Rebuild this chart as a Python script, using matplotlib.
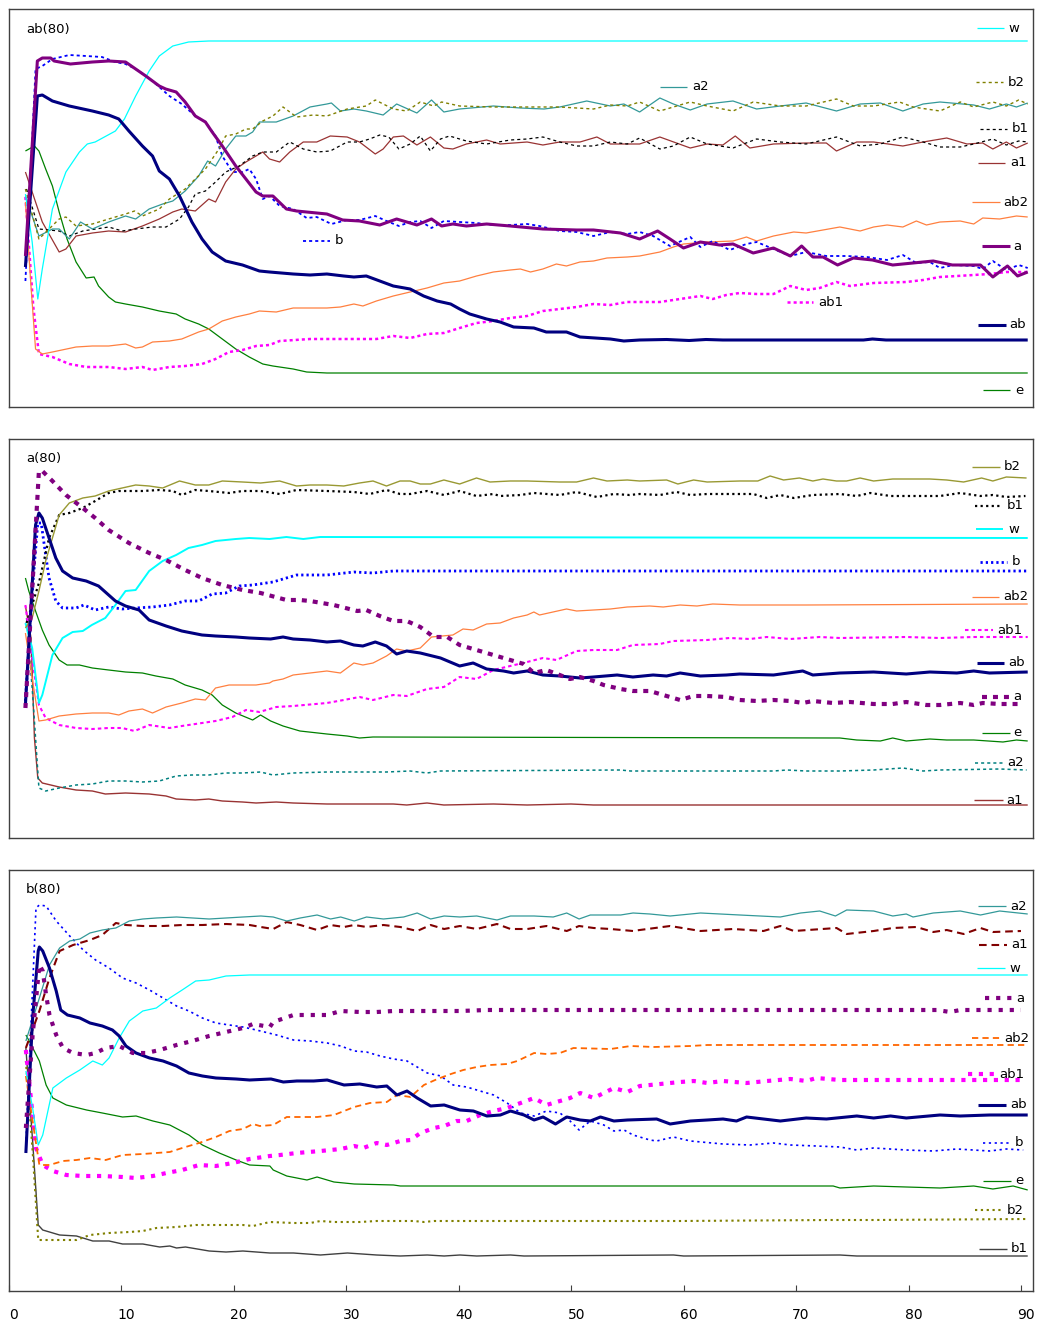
import matplotlib
matplotlib.use("Agg")
import matplotlib.pyplot as plt
from matplotlib.lines import Line2D
from matplotlib.transforms import ScaledTranslation

plt.rcParams["lines.scale_dashes"] = False
plt.rcParams["font.family"] = ["DejaVu Sans"]

W, H, DPI = 1037, 1323, 100

# ---------------- data: (time, level) ----------------
# Panel 1: ab(80)
p1_w = [(1.5,213),(2.1,165),(2.6,108),(3.0,138),(3.9,198),(5.1,235),(6.3,255),(7.0,263),(7.7,265),(9.5,276),(10.3,288),(11.3,311),(12.5,336),(13.4,351),(14.6,361),(16.0,365),(17.8,366),(90.6,366)]
p1_b2 = [(1.5,218),(2.7,168),(4.5,188),(5.1,190),(6.0,181),(7.45,183),(8.9,188),(10.4,193),(11.2,196),(11.9,191),(13.4,198),(14.3,208),(15.7,218),(16.6,228),(17.5,238),(18.7,258),(19.3,271),(20.2,273),(21.1,278),(21.7,278),(22.6,286),(23.5,291),(24.4,300),(25.6,290),(27.1,292),(28.3,291),(30.1,298),(31.8,301),(32.6,307),(34.2,298),(35.4,296),(36.6,305),(37.8,301),(38.5,305),(40.1,301),(43.1,300),(46.1,300),(49.0,300),(52.0,298),(53.5,302),(55.0,301),(56.1,305),(57.9,296),(60.6,305),(62.1,301),(64.4,296),(66.2,305),(68.6,301),(70.9,301),(73.6,308),(75.1,301),(76.9,301),(79.2,305),(80.4,300),(82.8,296),(84.6,305),(85.8,300),(87.5,305),(88.7,301),(89.8,307),(90.6,303)]
p1_a2 = [(1.5,211),(2.7,171),(3.9,178),(4.5,178),(5.4,168),(6.4,185),(7.45,178),(8.9,185),(10.4,191),(11.3,188),(12.5,198),(13.7,203),(14.6,206),(15.7,216),(16.9,231),(17.7,246),(18.4,241),(19.3,258),(20.2,271),(21.1,271),(21.7,275),(22.3,285),(23.8,285),(25.3,291),(26.8,300),(28.3,303),(28.7,304),(29.5,296),(30.7,298),(31.8,296),(33.3,292),(34.5,303),(36.3,294),(37.6,307),(38.7,295),(40.1,298),(43.1,301),(45.5,299),(47.6,298),(49.0,300),(51.4,306),(53.5,301),(54.7,303),(56.1,295),(57.9,309),(59.1,303),(60.6,297),(62.1,303),(64.4,306),(66.5,298),(68.6,301),(70.9,304),(73.6,296),(75.7,303),(77.5,304),(79.5,296),(81.3,303),(82.8,305),(85.8,302),(87.2,298),(88.7,303),(89.6,300),(90.6,304)]
p1_b1 = [(1.6,218),(2.7,178),(4.5,176),(5.4,171),(6.6,176),(8.9,180),(10.1,176),(11.3,178),(12.8,180),(14.0,180),(15.2,188),(16.0,200),(16.6,213),(17.5,216),(18.4,225),(19.3,235),(20.5,241),(21.7,251),(22.6,255),(23.8,255),(25.0,265),(26.2,258),(27.4,255),(28.6,256),(30.1,265),(31.2,265),(32.1,268),(33.0,272),(33.8,270),(34.7,258),(35.7,263),(36.6,271),(37.5,256),(38.4,268),(39.2,271),(40.7,266),(42.5,263),(44.6,267),(46.1,268),(47.5,270),(49.0,265),(50.5,261),(52.0,261),(53.5,265),(55.0,263),(56.1,269),(57.9,258),(59.1,261),(60.6,270),(62.1,263),(64.4,259),(66.5,268),(68.6,265),(70.9,263),(73.6,270),(75.7,261),(77.5,263),(79.5,270),(81.3,265),(82.8,260),(84.6,260),(85.8,263),(87.5,268),(88.7,262),(89.8,266),(90.6,265)]
p1_a1 = [(1.5,235),(3.0,185),(4.5,155),(5.1,158),(6.0,171),(7.45,174),(8.9,176),(10.4,175),(11.9,181),(13.4,188),(14.6,195),(15.4,198),(16.6,196),(17.8,208),(18.4,205),(19.3,225),(20.2,238),(21.1,245),(22.0,251),(22.6,255),(23.2,248),(24.1,245),(25.0,255),(26.2,265),(27.4,265),(28.6,271),(30.1,270),(31.2,265),(32.6,253),(33.3,258),(34.2,270),(35.1,271),(36.3,262),(37.5,270),(38.7,259),(39.5,258),(40.7,263),(42.5,267),(43.7,263),(46.1,265),(47.5,262),(49.0,265),(50.8,265),(52.3,270),(53.5,263),(55.0,263),(56.1,263),(57.9,270),(60.6,259),(62.1,263),(63.5,262),(64.6,271),(65.9,259),(68.0,263),(70.9,264),(72.7,264),(73.6,256),(75.4,265),(76.9,265),(79.5,261),(81.3,265),(83.4,269),(85.2,263),(86.6,264),(87.5,258),(88.7,265),(89.6,259),(90.6,264)]
p1_ab2 = [(1.5,205),(2.0,120),(2.4,58),(3.0,53),(3.9,55),(6.0,60),(7.45,61),(8.9,61),(10.4,63),(11.3,59),(11.9,60),(12.8,65),(14.3,66),(15.4,68),(16.9,75),(17.8,78),(19.0,86),(20.2,90),(21.4,93),(22.3,96),(23.8,95),(25.3,99),(28.3,99),(29.5,100),(30.7,103),(31.5,101),(32.7,106),(34.2,111),(35.7,115),(37.2,119),(38.7,124),(40.1,126),(41.6,131),(43.1,135),(44.6,137),(45.5,138),(46.4,135),(47.5,138),(48.7,143),(49.6,141),(50.8,145),(52.0,146),(53.2,149),(55.0,150),(56.1,151),(57.9,155),(59.1,160),(60.0,163),(62.1,165),(64.4,166),(65.6,170),(66.5,166),(68.0,171),(69.8,175),(70.9,174),(73.9,180),(75.7,176),(76.9,180),(78.1,182),(79.5,180),(80.7,186),(81.6,182),(82.8,185),(84.6,186),(85.8,183),(86.6,189),(88.1,188),(89.6,191),(90.6,190)]
p1_a = [(1.5,151),(2.56,346),(3.0,349),(3.75,349),(4.05,346),(5.5,343),(7.45,345),(8.9,346),(10.4,345),(11.3,338),(12.2,331),(13.4,321),(13.97,318),(14.9,315),(15.7,305),(16.6,291),(17.5,285),(18.1,275),(19.0,261),(20.2,241),(21.1,228),(22.0,215),(22.6,211),(23.5,211),(24.7,198),(25.6,196),(28.3,193),(29.7,187),(31.2,186),(33.0,182),(34.5,188),(36.3,182),(37.6,188),(38.5,181),(39.5,183),(40.7,181),(42.5,183),(44.6,181),(47.5,178),(50.5,177),(52.0,177),(54.4,174),(56.1,168),(57.7,176),(58.8,168),(60.0,159),(61.5,165),(63.2,162),(64.4,163),(66.2,154),(68.0,159),(69.5,151),(70.5,161),(71.5,150),(72.4,150),(73.7,142),(75.1,149),(76.8,147),(78.6,142),(80.4,144),(82.2,146),(83.9,142),(86.4,142),(87.5,130),(88.8,141),(89.7,131),(90.6,135)]
p1_b = [(1.5,126),(2.4,338),(3.0,341),(3.9,348),(5.4,352),(6.9,351),(8.3,350),(9.5,345),(10.4,343),(11.3,338),(12.2,331),(13.1,323),(14.3,311),(15.4,303),(16.6,291),(17.5,285),(18.4,271),(19.0,251),(19.9,235),(20.8,235),(21.4,238),(22.0,228),(22.6,208),(23.2,211),(24.1,201),(25.3,198),(26.5,189),(27.4,190),(28.7,183),(30.1,187),(31.2,187),(32.6,191),(33.6,186),(34.7,181),(35.7,185),(36.6,186),(37.6,179),(38.7,186),(40.1,185),(41.6,184),(43.1,182),(44.6,182),(46.1,183),(47.2,181),(49.0,176),(50.5,175),(52.0,171),(53.5,175),(55.0,173),(56.1,175),(57.3,171),(58.8,161),(60.6,170),(61.5,160),(62.6,166),(64.1,157),(65.6,163),(66.5,165),(68.0,158),(69.5,151),(70.9,155),(72.7,151),(74.5,151),(76.3,150),(78.1,147),(79.5,152),(80.7,144),(81.9,145),(82.8,139),(84.0,142),(85.8,141),(86.6,138),(87.5,146),(88.7,137),(89.8,142),(90.6,139)]
p1_ab1 = [(1.5,210),(2.2,100),(2.7,53),(3.9,50),(5.4,43),(6.9,40),(8.9,40),(10.4,38),(11.9,40),(12.8,37),(14.3,40),(15.7,41),(17.2,43),(18.4,48),(19.6,55),(20.8,57),(22.0,61),(23.2,62),(24.1,66),(26.8,68),(31.2,68),(32.7,68),(34.2,71),(35.7,69),(37.2,73),(38.7,74),(40.1,79),(41.6,84),(43.1,86),(44.6,89),(46.1,91),(47.5,96),(49.0,98),(50.5,100),(52.0,103),(53.5,102),(55.0,105),(57.9,105),(59.1,107),(61.5,111),(62.6,108),(63.8,112),(65.0,114),(66.5,113),(68.0,113),(69.5,121),(70.9,117),(72.1,119),(73.6,125),(74.8,121),(76.9,124),(79.8,125),(81.3,127),(82.8,130),(85.8,132),(87.2,133),(88.7,135),(90.6,135)]
p1_ab = [(1.5,140),(2.56,311),(3.0,312),(3.9,306),(5.4,301),(7.45,296),(8.9,292),(9.8,288),(10.7,276),(11.9,261),(12.8,251),(13.4,236),(14.3,228),(15.2,211),(16.3,185),(17.2,168),(18.1,155),(19.3,146),(20.8,142),(22.3,136),(23.2,135),(25.3,133),(26.8,132),(28.3,133),(29.8,131),(30.7,130),(31.8,131),(33.0,126),(34.2,121),(35.7,118),(36.9,111),(38.1,106),(39.3,103),(40.1,98),(41.0,93),(42.5,88),(43.7,85),(44.9,80),(46.7,79),(47.8,75),(49.6,75),(50.8,70),(53.5,68),(54.7,66),(56.1,67),(58.5,67.5),(60.5,66.5),(62.0,67.5),(63.5,67),(76.0,67),(76.8,68),(78.0,67),(90.6,67)]
p1_e = [(1.5,256),(2.3,261),(2.7,256),(3.3,238),(3.9,221),(4.5,195),(5.2,168),(6.0,145),(6.9,129),(7.6,130),(8.0,121),(8.9,110),(9.5,105),(10.4,103),(11.9,100),(13.4,96),(14.9,93),(15.7,88),(16.9,83),(17.8,78),(19.0,68),(20.2,58),(21.4,50),(22.6,43),(23.5,41),(25.3,38),(26.5,35),(28.3,34),(90.6,34)]

# Panel 2: a(80)
p2_b2 = [(1.5,210),(2.1,220),(2.7,247),(3.3,277),(3.9,300),(4.5,323),(5.4,335),(6.6,340),(7.7,342),(8.9,347),(10.1,350),(11.3,353),(12.5,352),(13.7,350),(15.2,357),(16.6,353),(17.8,353),(19.0,357),(20.8,356),(22.4,355),(24.1,357),(25.6,352),(26.8,353),(28.3,353),(29.8,352),(31.2,355),(32.4,357),(33.6,352),(34.8,357),(35.7,357),(36.6,354),(37.5,354),(38.7,358),(40.1,354),(41.6,360),(42.8,356),(44.6,357),(46.1,357),(49.0,356),(50.5,356),(52.0,360),(53.2,357),(55.0,358),(56.1,357),(58.5,358),(59.5,354),(60.9,358),(62.1,356),(65.0,357),(66.6,357),(67.7,362),(68.9,358),(70.3,360),(71.5,357),(72.4,359),(73.6,357),(74.5,357),(75.7,360),(76.9,357),(78.6,359),(81.9,359),(83.4,358),(84.9,356),(86.5,360),(87.5,357),(88.7,361),(90.5,360)]
p2_b1 = [(1.6,215),(2.7,255),(3.6,300),(4.5,323),(5.4,325),(6.6,330),(7.7,337),(8.9,345),(9.8,347),(11.9,347),(13.4,348),(14.6,347),(15.4,343),(16.6,348),(17.8,347),(19.6,345),(20.8,347),(22.4,347),(24.1,344),(25.6,348),(28.3,347),(30.7,346),(32.1,344),(33.6,348),(34.8,344),(35.7,344),(37.2,347),(38.7,343),(40.1,347),(41.6,342),(43.1,344),(43.7,342),(45.5,343),(46.7,345),(49.0,343),(50.5,346),(52.3,341),(53.8,344),(55.2,343),(56.1,344),(57.9,343),(59.4,346),(60.6,343),(62.1,344),(66.2,344),(67.4,340),(68.6,343),(69.8,340),(71.5,343),(73.9,344),(75.4,342),(76.6,345),(78.4,342),(82.8,342),(84.6,345),(86.4,342),(87.5,343),(88.7,341),(90.4,342)]
p2_w = [(1.5,215),(2.1,190),(2.7,135),(3.0,143),(3.9,183),(4.8,200),(5.7,206),(6.6,207),(7.4,213),(8.6,220),(9.5,233),(10.4,247),(11.3,248),(12.5,267),(13.7,277),(14.9,283),(16.0,290),(17.2,293),(18.4,297),(20.2,299),(21.4,300),(23.2,299),(24.7,301),(26.2,299),(27.7,301),(90.6,300)]
p2_b = [(1.5,137),(2.2,260),(2.6,315),(2.9,315),(3.3,283),(3.6,260),(4.2,237),(4.8,230),(6.0,230),(6.7,233),(7.7,228),(8.9,231),(10.1,229),(11.3,230),(12.8,231),(14.3,233),(15.7,237),(16.9,237),(18.1,244),(19.3,245),(20.5,252),(21.7,253),(23.5,256),(25.6,263),(28.3,263),(30.7,266),(32.4,265),(34.2,267),(90.6,267)]
p2_ab2 = [(1.5,205),(2.1,160),(2.7,117),(3.3,118),(4.5,122),(6.0,124),(7.45,125),(8.9,125),(9.8,123),(10.7,127),(11.9,129),(12.8,125),(14.0,131),(15.4,135),(16.6,139),(17.5,138),(18.4,150),(19.6,153),(22.0,153),(23.2,155),(23.5,157),(24.4,159),(25.3,163),(26.8,165),(28.3,167),(29.5,165),(30.7,175),(31.5,173),(32.4,175),(33.6,182),(34.5,189),(35.4,187),(36.6,190),(37.6,201),(39.5,203),(40.4,209),(41.3,208),(42.5,214),(43.7,215),(44.9,220),(46.1,223),(46.7,226),(47.2,223),(48.4,226),(49.6,229),(50.5,227),(53.5,229),(55.0,231),(57.0,232),(58.2,231),(59.7,233),(61.2,232),(62.6,234),(65.0,233),(70.9,233),(90.6,234)]
p2_ab1 = [(1.5,233),(2.1,180),(2.7,133),(3.3,120),(4.5,113),(6.0,110),(7.45,109),(8.9,110),(10.1,110),(11.2,107),(12.5,113),(14.3,110),(15.4,112),(17.2,115),(18.4,117),(19.9,121),(21.1,128),(22.3,126),(23.8,131),(25.3,132),(28.3,135),(29.8,138),(31.2,141),(32.4,138),(34.2,143),(35.4,142),(37.2,149),(38.7,151),(40.1,161),(41.6,159),(43.1,168),(44.6,172),(46.1,176),(47.5,180),(48.7,178),(50.5,187),(52.0,188),(54.1,188),(55.5,193),(57.9,194),(59.1,197),(62.1,198),(64.1,200),(65.9,199),(67.4,201),(69.5,199),(72.1,201),(73.9,200),(79.8,201),(82.8,200),(85.8,201),(90.6,201)]
p2_ab = [(1.5,133),(2.4,313),(2.7,325),(3.0,320),(3.6,300),(4.2,280),(4.8,267),(5.7,260),(6.9,257),(8.0,252),(8.9,243),(9.5,237),(10.4,232),(11.6,228),(12.5,218),(14.0,212),(15.4,207),(17.2,203),(18.4,202),(20.2,201),(21.4,200),(23.3,199),(24.4,201),(25.3,199),(26.8,198),(28.3,196),(29.5,197),(30.7,193),(31.5,192),(32.6,196),(33.6,192),(34.5,184),(35.4,187),(36.6,185),(38.4,180),(40.1,172),(41.3,175),(42.5,169),(44.0,167),(44.9,165),(46.1,167),(47.5,163),(49.0,162),(50.8,160),(52.0,161),(54.1,163),(55.5,161),(57.3,163),(58.5,162),(59.7,165),(61.5,162),(63.8,163),(65.0,164),(68.0,163),(70.6,167),(71.5,163),(73.9,165),(76.9,166),(79.8,164),(81.9,166),(84.3,165),(85.8,167),(87.2,165),(90.6,166)]
p2_a = [(1.5,130),(2.7,367),(3.0,367),(3.9,357),(5.1,343),(6.6,330),(7.7,320),(8.9,308),(10.7,295),(12.5,285),(14.0,278),(15.7,268),(17.2,260),(19.0,253),(20.8,248),(22.4,245),(24.7,238),(25.9,238),(26.8,237),(28.9,233),(31.0,227),(31.8,228),(33.0,222),(34.2,217),(35.4,217),(36.6,211),(37.8,201),(39.0,201),(40.1,193),(41.6,188),(43.1,183),(44.6,178),(45.8,174),(46.7,165),(47.8,168),(49.0,163),(49.9,159),(50.8,161),(52.0,157),(52.9,153),(54.4,149),(55.5,147),(57.0,147),(58.2,143),(59.7,138),(60.9,142),(62.1,142),(63.8,141),(65.0,138),(66.5,137),(68.0,138),(69.5,137),(70.6,135),(71.5,137),(73.3,135),(74.8,136),(76.9,134),(78.6,134),(79.8,136),(81.6,133),(82.8,133),(84.6,135),(85.8,133),(86.6,135),(88.1,134),(89.8,134)]
p2_e = [(1.5,260),(1.8,247),(2.4,227),(3.0,208),(3.6,193),(4.5,178),(5.2,173),(6.3,173),(7.45,170),(8.9,168),(10.4,166),(11.9,165),(13.1,162),(14.6,159),(15.7,153),(17.2,148),(18.1,143),(19.0,133),(20.2,125),(21.7,118),(22.4,123),(23.3,117),(24.4,112),(25.9,107),(28.3,104),(30.1,102),(31.2,100),(32.4,101),(73.9,100),(75.4,98),(77.5,97),(78.6,100),(79.8,97),(81.9,99),(83.4,98),(85.8,98),(88.4,96),(89.6,98),(90.6,97)]
p2_a2 = [(1.6,220),(2.1,150),(2.7,50),(3.3,47),(4.5,50),(6.0,53),(7.45,54),(8.9,57),(10.4,57),(11.9,56),(13.4,57),(14.9,62),(16.3,63),(17.8,63),(19.3,65),(20.8,65),(22.4,66),(23.5,63),(25.3,65),(28.3,66),(33.6,66),(35.7,67),(37.2,65),(38.4,67),(54.4,68),(55.3,67),(68.0,67),(69.2,68),(70.9,67),(73.9,67),(76.9,68),(79.5,70),(81.3,67),(82.8,68),(88.1,69),(90.5,68)]
p2_a1 = [(1.5,232),(2.0,200),(2.3,100),(2.6,60),(3.0,55),(4.5,51),(6.0,48),(7.45,47),(8.6,44),(10.4,45),(12.5,44),(14.0,42),(14.9,39),(16.6,38),(17.8,39),(19.0,37),(20.8,36),(22.0,35),(23.8,36),(25.3,35),(28.3,34),(34.2,34),(35.4,33),(37.2,35),(38.7,33),(43.1,34),(46.1,33),(50.0,34),(52.0,33),(90.6,33)]

# Panel 3: b(80)
p3_a2 = [(1.5,250),(2.7,293),(3.6,326),(4.5,343),(5.4,350),(6.3,352),(7.2,358),(8.3,361),(9.5,363),(10.7,370),(11.9,372),(13.1,373),(14.9,374),(17.8,372),(19.3,373),(20.8,374),(22.4,375),(23.5,374),(24.7,370),(25.9,373),(27.4,376),(28.6,372),(29.5,374),(30.7,370),(31.8,374),(33.3,372),(35.1,374),(36.3,378),(37.5,372),(38.7,375),(40.1,374),(41.6,375),(43.4,371),(44.6,375),(46.7,375),(48.4,374),(49.6,378),(50.7,372),(51.7,376),(54.4,376),(55.5,378),(57.0,377),(58.8,375),(61.5,378),(65.0,376),(68.6,374),(70.4,378),(72.1,380),(73.5,375),(74.5,381),(76.9,380),(78.6,375),(79.8,377),(80.4,374),(82.2,378),(84.6,380),(86.4,376),(88.1,380),(90.6,377)]
p3_a1 = [(1.5,243),(2.7,280),(3.6,313),(4.5,340),(5.7,346),(7.2,351),(8.3,356),(9.5,368),(10.4,366),(11.9,365),(13.7,365),(15.4,366),(17.2,366),(19.3,367),(21.4,366),(22.4,364),(23.5,362),(24.7,369),(25.9,366),(27.4,361),(28.6,366),(29.8,364),(30.7,366),(31.8,364),(33.3,366),(34.8,364),(36.3,360),(37.5,366),(38.7,362),(40.1,365),(41.6,362),(43.4,367),(44.6,362),(46.1,362),(47.8,365),(49.6,360),(50.7,365),(52.0,363),(53.5,362),(55.5,360),(56.1,361),(58.8,365),(61.5,360),(64.4,362),(67.1,360),(68.6,365),(69.8,360),(73.6,363),(74.5,357),(76.9,360),(78.6,363),(80.7,364),(82.2,359),(83.4,361),(84.9,357),(86.4,363),(87.5,359),(90.0,360)]
p3_w = [(1.5,220),(2.1,183),(2.6,146),(3.0,156),(3.9,203),(5.1,213),(6.3,221),(7.45,230),(8.3,226),(8.9,233),(9.8,253),(10.7,270),(11.9,280),(13.1,283),(14.3,293),(15.4,301),(16.6,310),(17.8,311),(19.3,315),(21.4,316),(90.6,316)]
p3_a = [(1.5,163),(2.1,256),(2.7,326),(3.0,320),(3.3,296),(3.6,276),(4.2,256),(4.8,243),(5.7,238),(6.9,236),(7.7,238),(8.6,243),(9.8,245),(11.0,238),(12.2,238),(13.4,241),(14.9,246),(16.3,250),(17.8,255),(19.3,259),(20.8,263),(21.7,267),(23.2,264),(23.5,269),(25.3,276),(28.3,276),(29.5,280),(31.2,279),(32.7,279),(34.2,280),(40.1,280),(42.5,281),(82.5,281),(83.7,279),(84.6,281),(90.0,281)]
p3_ab2 = [(1.5,215),(2.1,170),(2.7,126),(3.6,126),(4.8,130),(6.0,131),(7.2,133),(8.6,131),(10.1,136),(11.9,137),(13.1,138),(14.3,139),(15.4,143),(16.9,148),(18.4,154),(19.6,160),(20.8,162),(21.7,167),(22.3,165),(23.5,166),(24.7,174),(27.4,174),(28.9,176),(30.7,184),(32.1,188),(33.6,189),(34.5,196),(35.7,194),(36.9,206),(38.1,212),(39.3,217),(40.4,221),(41.6,224),(42.8,226),(44.3,227),(45.2,230),(46.7,238),(47.8,237),(49.0,238),(50.2,243),(53.5,242),(55.3,245),(57.3,244),(60.6,245),(62.1,246),(90.6,246)]
p3_ab1 = [(1.5,241),(2.4,143),(3.0,126),(3.9,120),(5.1,116),(6.6,115),(8.3,115),(10.1,114),(11.3,113),(12.8,115),(14.0,118),(15.4,121),(16.9,126),(18.4,125),(19.9,128),(21.4,132),(23.2,135),(24.1,136),(25.6,138),(27.7,140),(29.5,142),(30.7,145),(31.5,143),(32.7,148),(33.6,146),(34.8,150),(35.7,151),(36.6,158),(37.8,163),(38.7,165),(39.8,170),(40.7,170),(41.9,176),(43.1,180),(44.3,183),(45.5,188),(46.7,193),(47.8,186),(49.0,190),(49.9,193),(50.8,198),(52.0,193),(52.9,198),(53.8,203),(55.0,199),(56.1,205),(57.9,207),(59.7,209),(60.9,210),(62.1,208),(63.5,210),(65.6,208),(67.4,210),(69.5,212),(70.9,210),(71.8,213),(73.9,211),(89.9,211)]
p3_ab = [(1.5,138),(2.1,273),(2.6,340),(2.7,344),(3.0,340),(3.6,323),(4.2,300),(4.6,281),(5.2,276),(6.3,273),(7.2,268),(8.3,265),(9.2,261),(9.8,255),(10.4,245),(11.3,238),(12.5,233),(13.7,230),(14.9,225),(16.0,218),(17.2,215),(18.4,213),(20.2,212),(21.4,211),(23.3,212),(24.4,209),(25.6,210),(27.1,210),(28.3,211),(29.8,206),(31.2,207),(32.7,204),(33.6,205),(34.5,196),(35.4,200),(36.3,193),(37.5,185),(38.7,186),(40.1,181),(41.3,180),(42.5,175),(43.7,176),(44.6,180),(45.8,176),(46.7,171),(47.5,174),(48.6,167),(49.6,174),(50.8,171),(51.7,170),(52.6,174),(53.8,170),(55.0,171),(57.6,172),(58.8,167),(60.6,170),(62.1,171),(63.5,172),(64.7,170),(65.6,174),(68.6,170),(70.9,173),(72.7,172),(75.4,175),(76.9,173),(78.4,175),(79.8,173),(82.8,176),(84.6,175),(87.2,176),(90.6,176)]
p3_b = [(1.5,146),(2.4,383),(2.7,386),(3.3,385),(4.2,370),(5.4,355),(6.6,341),(7.7,331),(8.9,323),(10.1,313),(11.3,308),(12.5,301),(13.7,293),(14.9,285),(16.0,280),(17.2,273),(18.4,268),(19.6,266),(20.8,264),(22.0,261),(23.8,256),(25.3,251),(26.8,250),(28.3,248),(29.5,245),(30.7,240),(31.8,239),(33.0,235),(34.2,232),(35.4,230),(36.3,224),(37.2,218),(38.4,215),(39.5,206),(40.7,204),(41.9,200),(43.1,196),(44.3,188),(45.5,178),(46.7,175),(47.8,180),(49.0,178),(49.9,170),(50.7,161),(51.7,170),(52.9,166),(53.8,160),(54.7,161),(55.5,156),(57.0,151),(57.6,150),(59.1,154),(60.6,150),(63.5,147),(65.9,146),(68.0,148),(69.5,146),(71.8,145),(73.9,144),(75.4,141),(76.9,143),(79.8,141),(82.2,140),(84.3,142),(87.2,140),(88.7,142),(90.2,141)]
p3_e = [(1.5,256),(1.8,250),(2.7,230),(3.3,206),(3.9,193),(5.1,186),(6.9,181),(8.3,178),(10.1,174),(11.3,175),(12.8,170),(14.3,166),(16.0,156),(17.2,146),(18.7,138),(20.2,131),(21.4,126),(23.2,125),(23.5,121),(24.7,115),(26.5,111),(27.4,114),(28.9,109),(30.7,107),(34.2,106),(34.8,105),(73.3,105),(73.9,103),(76.9,105),(79.8,104),(82.8,103),(85.8,105),(87.5,102),(89.3,105),(90.6,101)]
p3_b2 = [(1.5,230),(2.1,140),(2.6,51),(3.6,51),(6.0,51),(7.2,56),(8.9,58),(10.7,59),(11.9,60),(13.1,63),(14.9,64),(16.6,66),(18.4,66),(20.8,66),(21.7,65),(23.2,69),(25.3,68),(26.8,68),(27.7,70),(28.9,69),(31.2,69),(32.7,70),(36.0,70),(36.9,69),(37.8,70),(59.7,70),(73.0,71),(76.9,71),(90.6,72)]
p3_b1 = [(1.5,243),(2.1,150),(2.6,66),(3.0,61),(4.5,56),(6.0,55),(7.45,50),(8.9,50),(10.1,47),(11.9,47),(13.4,44),(14.3,45),(14.9,43),(15.7,44),(17.8,40),(19.3,39),(20.8,40),(23.2,38),(25.3,38),(27.7,36),(30.1,38),(32.7,36),(34.8,35),(37.2,36),(38.7,35),(40.1,36),(41.6,35),(44.6,36),(45.8,35),(59.1,36),(60.0,35),(73.9,36),(75.4,35),(90.6,35)]

X_TICKS = [0, 10, 20, 30, 40, 50, 60, 70, 80, 90]
PANEL_TITLES = ["ab(80)", "a(80)", "b(80)"]

# ---------------- styles: (colour, linewidth, dash pattern) ----------------
S1 = {
    "e": ("#008000", 0.9, None), "ab1": ("#ff00ff", 1.8, (2.2, 2.2)),
    "ab2": ("#ff8040", 0.9, None), "b": ("#0000ff", 1.3, (2.2, 2.2)),
    "a1": ("#993333", 0.9, None), "b1": ("#000000", 0.9, (2.2, 2.2)),
    "a2": ("#339999", 0.9, None), "b2": ("#808000", 1.0, (2.2, 2.2)),
    "w": ("#00ffff", 0.9, None), "ab": ("#000080", 2.2, None),
    "a": ("#800080", 2.2, None),
}
S2 = {
    "a1": ("#993333", 1.0, None), "a2": ("#008080", 1.1, (2.2, 2.2)),
    "e": ("#008000", 0.9, None), "ab1": ("#ff00ff", 1.5, (2.5, 2.2)),
    "ab2": ("#ff8040", 0.9, None), "b": ("#0000ff", 2.0, (1.6, 2.2)),
    "w": ("#00ffff", 1.4, None), "b1": ("#000000", 1.6, (1.6, 2.4)),
    "b2": ("#999933", 1.0, None), "ab": ("#000080", 2.2, None),
    "a": ("#800080", 3.0, (3.6, 4.3)),
}
S3 = {
    "b1": ("#404040", 1.0, None), "b2": ("#808000", 1.5, (1.6, 2.6)),
    "e": ("#008000", 0.9, None), "b": ("#0000ff", 1.2, (1.6, 2.6)),
    "ab1": ("#ff00ff", 3.0, (3.0, 4.8)), "ab2": ("#ff6600", 1.3, (4.5, 3.0)),
    "w": ("#00ffff", 0.9, None), "a1": ("#800000", 1.5, (5.5, 3.5)),
    "a2": ("#339999", 0.9, None), "ab": ("#000080", 2.2, None),
    "a": ("#800080", 3.0, (3.0, 5.0)),
}

SERIES = [
    {"e": p1_e, "ab1": p1_ab1, "ab2": p1_ab2, "b": p1_b, "a1": p1_a1, "b1": p1_b1,
     "a2": p1_a2, "b2": p1_b2, "w": p1_w, "ab": p1_ab, "a": p1_a},
    {"a1": p2_a1, "a2": p2_a2, "e": p2_e, "ab1": p2_ab1, "ab2": p2_ab2, "b": p2_b,
     "w": p2_w, "b1": p2_b1, "b2": p2_b2, "ab": p2_ab, "a": p2_a},
    {"b1": p3_b1, "b2": p3_b2, "e": p3_e, "b": p3_b, "ab1": p3_ab1, "ab2": p3_ab2,
     "w": p3_w, "a1": p3_a1, "a2": p3_a2, "ab": p3_ab, "a": p3_a},
]
STYLES = [S1, S2, S3]

# ---------------- layout (pixels of the 1037x1323 canvas) ----------------
PANEL_BOX = [(9, 9, 1033, 407), (9, 439, 1033, 838), (9, 870, 1033, 1291)]
X_LIM = (0.04, 91.07)
# legend entries: label, line x0, line x1, y, text x
LEG = [
    [("w", 977, 1004, 28, 1008), ("b2", 976, 1003, 82, 1008), ("a2", 660, 687, 87, 692),
     ("b1", 980, 1007, 129, 1012), ("a1", 978, 1005, 163, 1010), ("ab2", 972, 1000, 202, 1003),
     ("a", 982, 1010, 246, 1013), ("b", 303, 330, 241, 335), ("ab1", 787, 813, 302, 818),
     ("ab", 978, 1006, 325, 1009), ("e", 983, 1010, 390, 1015)],
    [("b2", 972, 1000, 467, 1004), ("b1", 975, 1002, 506, 1007), ("w", 976, 1003, 529, 1008),
     ("b", 980, 1007, 562, 1012), ("ab2", 972, 999, 597, 1003), ("ab1", 965, 993, 630, 997),
     ("ab", 977, 1004, 663, 1008), ("a", 982, 1010, 697, 1013), ("e", 982, 1010, 733, 1013),
     ("a2", 975, 1003, 763, 1007), ("a1", 974, 1003, 800, 1006)],
    [("a2", 978, 1006, 906, 1010), ("a1", 979, 1007, 945, 1011), ("w", 977, 1005, 968, 1009),
     ("a", 985, 1013, 998, 1016), ("ab2", 972, 1000, 1038, 1004), ("ab1", 968, 995, 1074, 999),
     ("ab", 978, 1006, 1105, 1010), ("b", 983, 1011, 1143, 1015), ("e", 983, 1011, 1181, 1015),
     ("b2", 975, 1003, 1210, 1007), ("b1", 979, 1007, 1249, 1011)],
]

fig = plt.figure(figsize=(W / DPI, H / DPI), dpi=DPI)
fig.patch.set_facecolor("white")


def fx(px):
    return px / W


def fy(py):
    return 1 - py / H


def style_kw(st):
    color, lw, dash = st
    kw = dict(color=color, linewidth=lw, solid_capstyle="butt", dash_capstyle="butt")
    if dash is None:
        kw["linestyle"] = "-"
    else:
        kw["linestyle"] = (0, dash)
    return kw


for i, (x0, y0, x1, y1) in enumerate(PANEL_BOX):
    ax = fig.add_axes([fx(x0), fy(y1), fx(x1) - fx(x0), fy(y0) - fy(y1)])
    ax.set_xlim(*X_LIM)
    ax.set_ylim(0, y1 - y0)
    for name, pts in SERIES[i].items():
        xs = [p[0] for p in pts]
        ys = [p[1] for p in pts]
        ax.plot(xs, ys, **style_kw(STYLES[i][name]))
    for sp in ax.spines.values():
        sp.set_linewidth(1.0)
        sp.set_color("#404040")
    ax.set_yticks([])
    if i == 2:
        ax.set_xticks(X_TICKS)
        ax.tick_params(axis="x", direction="in", length=4.3, width=0.8,
                       color="#404040", pad=12, labelsize=10)
        offset = ScaledTranslation(5 / DPI, 0, fig.dpi_scale_trans)
        for lab in ax.get_xticklabels():
            lab.set_transform(lab.get_transform() + offset)
            lab.set_family(["Liberation Sans Narrow", "DejaVu Sans"])
    else:
        ax.set_xticks([])
    fig.text(fx(26), fy(y0 + 20), PANEL_TITLES[i], ha="left", va="center", fontsize=9.5)
    for name, lx0, lx1, ly, tx in LEG[i]:
        fig.add_artist(Line2D([fx(lx0), fx(lx1)], [fy(ly), fy(ly)],
                              transform=fig.transFigure, **style_kw(STYLES[i][name])))
        fig.text(fx(tx), fy(ly), name, ha="left", va="center", fontsize=9.5)

fig.savefig("out.png", dpi=DPI, facecolor="white")
